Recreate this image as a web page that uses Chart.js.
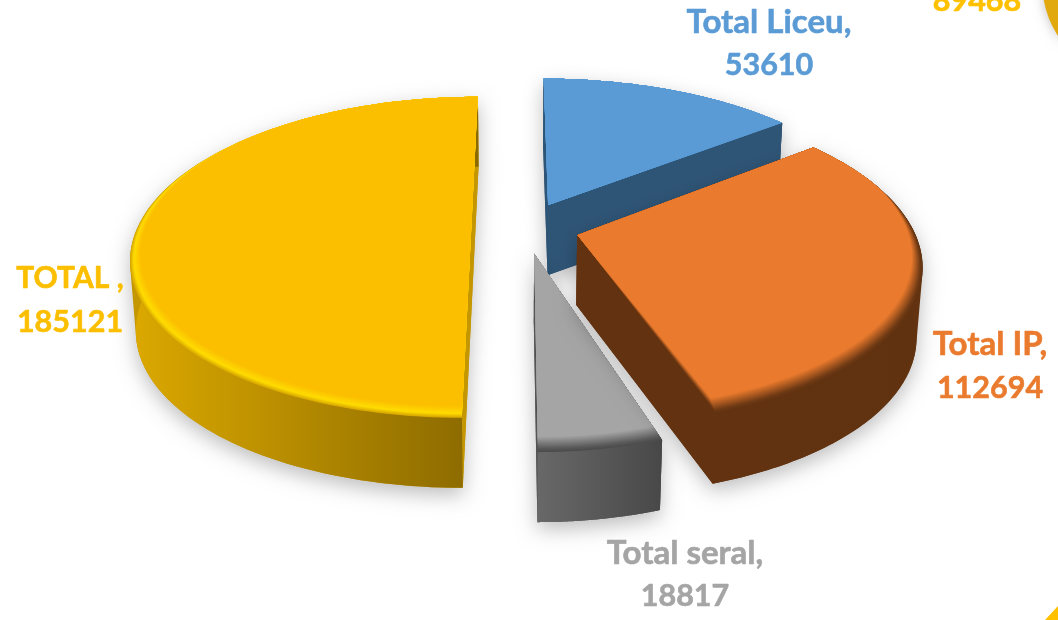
<!DOCTYPE html>
<html>
<head>
<meta charset="utf-8">
<script src="https://cdn.jsdelivr.net/npm/chart.js@4"></script>
<style>html,body{margin:0;padding:0;background:#fff;overflow:hidden}canvas{display:block}</style>
</head>
<body>
<canvas id="c" width="1058" height="620"></canvas>
<script>
const categories = ["Total Liceu", "Total IP", "Total seral", "TOTAL "];
const values = [53610, 112694, 18817, 185121];
const faceColors = ["#5B9BD5", "#EA7B2E", "#A5A5A5", "#FBBF00"];
const clippedLabel = "89468";

// view model (perspective plane) and per-slice styling
const view = {cx: 517, cy: 230, a: 340, b: 155.9, p: 0.17, shrink: 0.985, depth: 70};
const explode = [[0.0937, 0.163], [0.176, -0.032], [0.049, -0.147], [-0.1344, 0]];
const radiusX = [1, 0.99, 0.95, 0.985];
const bevelShrink = [0.01, 0.03, 0.03, 0.03];
const bevelLift = [2, 9, 8, 5];
const wallColors = [["#2F5576", "#2F5576"], ["#633311", "#60320F"], ["#686868", "#484848"], ["#DCA900", "#8A6900"]];
const radialColors = ["#2F5576", "#633311", "#555555", "#C49600"];
const bevels = [
  [[0, "#5288BA"], [0.3, "#5B9BD5"], [1, "#5B9BD5"]],
  [[0, "#633311"], [0.2, "#6E3A15"], [1, "#EA7B2E"]],
  [[0, "#4C4C4C"], [0.2, "#585858"], [1, "#A5A5A5"]],
  [[0, "#D6A600"], [0.35, "#FFDC00"], [1, "#FBBF00"]]
];
const labelStyle = [
  {x: 769, y: [33, 75], c: "#5B9BD5", size: 33},
  {x: 990, y: [355, 398], c: "#EA7B2E", size: 33},
  {x: 685, y: [564, 606], c: "#A5A5A5", size: 33},
  {x: 70, y: [288, 332], c: "#FBBF00", size: 30}
];

function project(x, y) {
  const w = 1 + view.p * y;
  return [view.cx + view.a * x / w, view.cy - view.b * y / w, w];
}
function drop(pt) {
  return [view.cx + (pt[0] - view.cx) * view.shrink, pt[1] + view.depth];
}
function rgb(h) { return [1, 3, 5].map(i => parseInt(h.substr(i, 2), 16)); }
function mix(stops, t) {
  for (let i = 1; i < stops.length; i++) {
    if (t <= stops[i][0]) {
      const k = (t - stops[i - 1][0]) / (stops[i][0] - stops[i - 1][0]);
      const a = rgb(stops[i - 1][1]), b = rgb(stops[i][1]);
      return "rgb(" + a.map((v, j) => Math.round(v + (b[j] - v) * k)).join(",") + ")";
    }
  }
  return stops[stops.length - 1][1];
}
function poly(ctx, pts) {
  ctx.beginPath();
  pts.forEach((p, i) => i ? ctx.lineTo(p[0], p[1]) : ctx.moveTo(p[0], p[1]));
  ctx.closePath();
}
function hull(pts) {
  const s = pts.map(p => [p[0], p[1]]).sort((a, b) => a[0] - b[0] || a[1] - b[1]);
  const cr = (o, a, b) => (a[0] - o[0]) * (b[1] - o[1]) - (a[1] - o[1]) * (b[0] - o[0]);
  const lo = [], up = [];
  for (const p of s) { while (lo.length > 1 && cr(lo[lo.length - 2], lo[lo.length - 1], p) <= 0) lo.pop(); lo.push(p); }
  for (const p of s.slice().reverse()) { while (up.length > 1 && cr(up[up.length - 2], up[up.length - 1], p) <= 0) up.pop(); up.push(p); }
  return lo.slice(0, -1).concat(up.slice(0, -1));
}

function drawSlice(ctx, arc, i) {
  const t0 = arc.startAngle + Math.PI / 2, t1 = arc.endAngle + Math.PI / 2;
  const [dx, dy] = explode[i];
  const N = 120;
  const arcPts = (r, up) => {
    const out = [];
    for (let k = 0; k <= N; k++) {
      const t = t0 + (t1 - t0) * k / N;
      const p = project(dx + radiusX[i] * r * Math.sin(t), dy + r * Math.cos(t));
      out.push([p[0], p[1] - up, p[2]]);
    }
    return out;
  };
  const apex = project(dx, dy);
  const rim = arcPts(1, 0);
  const rimLow = rim.map(drop);
  const apexLow = drop(apex);

  // soft ground shadow and body
  ctx.save();
  ctx.shadowColor = "rgba(0,0,0,0.26)";
  ctx.shadowBlur = 20;
  ctx.shadowOffsetY = 7;
  poly(ctx, hull([apex, apexLow].concat(rim, rimLow)));
  ctx.fillStyle = radialColors[i];
  ctx.fill();
  ctx.restore();

  // radial walls
  ctx.fillStyle = radialColors[i];
  poly(ctx, [apex, rim[0], rimLow[0], apexLow]); ctx.fill();
  poly(ctx, [apex, rim[N], rimLow[N], apexLow]); ctx.fill();

  // outer wall
  const xs = rim.map(p => p[0]);
  const g = ctx.createLinearGradient(Math.min(...xs), 0, Math.max(...xs), 0);
  g.addColorStop(0, wallColors[i][0]);
  g.addColorStop(1, wallColors[i][1]);
  ctx.fillStyle = g;
  poly(ctx, rim.concat(rimLow.slice().reverse())); ctx.fill();

  // top face with a bevel towards the rim
  ctx.save();
  poly(ctx, [apex].concat(rim));
  ctx.clip();
  ctx.fillStyle = bevels[i][0][1];
  poly(ctx, [apex].concat(rim)); ctx.fill();
  const steps = 18;
  for (let s = 1; s <= steps; s++) {
    const t = s / steps;
    poly(ctx, [apex].concat(arcPts(1 - bevelShrink[i] * t, bevelLift[i] * t)));
    ctx.fillStyle = mix(bevels[i], t);
    ctx.fill();
  }
  ctx.restore();
}

function heavyText(ctx, text, x, y) {
  ctx.strokeStyle = ctx.fillStyle;
  ctx.lineWidth = 0.6;
  ctx.lineJoin = "round";
  ctx.strokeText(text, x, y);
  ctx.fillText(text, x, y);
}

const scene = {
  id: "scene",
  beforeDatasetsDraw(chart) {
    const ctx = chart.ctx, arcs = chart.getDatasetMeta(0).data;
    [0, 2, 1, 3].forEach(i => drawSlice(ctx, arcs[i], i));
    return false;
  },
  afterDraw(chart) {
    const ctx = chart.ctx;
    // neighbouring shapes cropped by the picture edge
    ctx.save();
    ctx.shadowColor = "rgba(0,0,0,0.25)"; ctx.shadowBlur = 12;
    ctx.fillStyle = "#E2A90F";
    ctx.beginPath(); ctx.moveTo(1043, -5); ctx.quadraticCurveTo(1046, 20, 1062, 42); ctx.lineTo(1062, -5); ctx.closePath(); ctx.fill();
    ctx.restore();
    ctx.fillStyle = "#FFC000";
    ctx.beginPath(); ctx.moveTo(1045, 620); ctx.lineTo(1058, 606); ctx.lineTo(1058, 620); ctx.closePath(); ctx.fill();
    // labels
    ctx.save();
    ctx.textAlign = "center";
    ctx.textBaseline = "alphabetic";
    categories.forEach((c, i) => {
      const s = labelStyle[i];
      ctx.fillStyle = s.c;
      ctx.font = "bold " + s.size + "px Lato";
      heavyText(ctx, c + ",", s.x, s.y[0]);
      ctx.font = "bold 30.5px Lato";
      heavyText(ctx, String(values[i]), s.x, s.y[1]);
    });
    ctx.fillStyle = "#FFC000";
    ctx.font = "bold 30.5px Lato";
    heavyText(ctx, clippedLabel, 977, 11);
    ctx.restore();
  }
};

new Chart(document.getElementById("c"), {
  type: "pie",
  data: {labels: categories, datasets: [{data: values, backgroundColor: faceColors, borderWidth: 0}]},
  options: {
    responsive: false,
    animation: false,
    rotation: 0,
    plugins: {legend: {display: false}, tooltip: {enabled: false}, title: {display: false}}
  },
  plugins: [scene]
});
</script>
</body>
</html>
